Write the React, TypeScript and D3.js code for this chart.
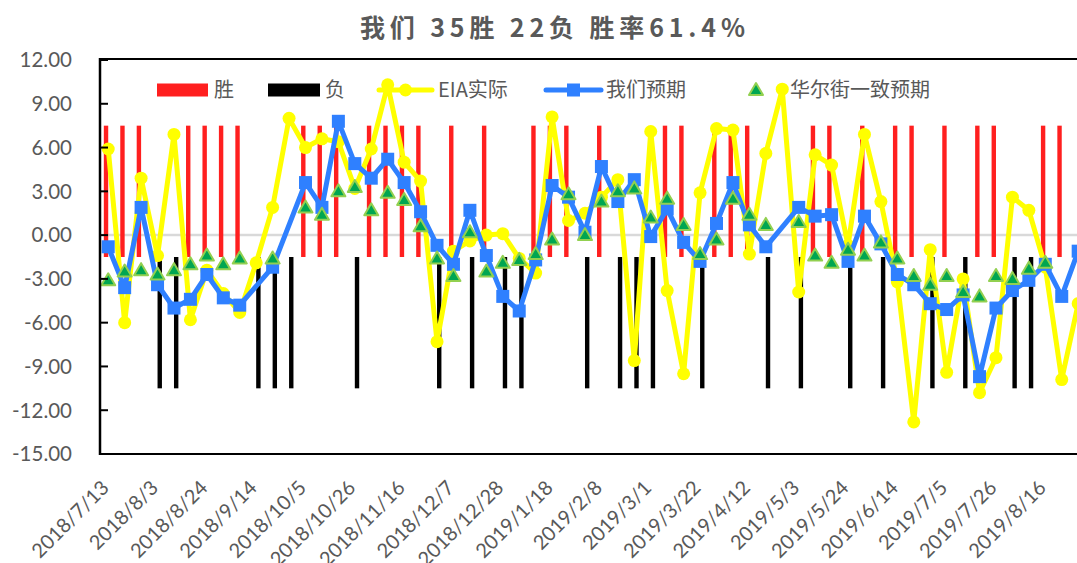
import React from 'react'
import * as d3 from 'd3'

// weekly EIA crude inventory change, 2018/7/13 .. 2019/8/30
const startDate = new Date(2018, 6, 13)
const categories = d3.range(60).map(i => d3.timeDay.offset(startDate, i * 7))
const fmt = d3.timeFormat('%Y/%-m/%-d')

// 1 = 胜, -1 = 负, 0 = none
const results = [
  1, 1, 1, -1, -1, 1, 1, 1, 1, -1, -1, -1, 1, 1, 1, -1, 1, 1, 1, 1,
  -1, 1, -1, 1, -1, -1, 1, 1, 1, -1, 1, -1, -1, -1, 1, 1, -1, 1, 1, 1,
  -1, 0, -1, 1, 1, -1, 1, -1, 1, 1, -1, 1, -1, 1, 1, -1, -1, 1, 1, 0,
]
const winBar = [-1.5, 7.5]
const lossBar = [-1.5, -10.5]

const eiaActual = [
  5.9, -6.0, 3.9, -1.4, 6.9, -5.8, -2.4, -4.0, -5.3, -1.9,
  1.9, 8.0, 6.0, 6.6, 6.4, 3.2, 5.9, 10.3, 5.0, 3.7,
  -7.3, -1.1, -0.4, 0.0, 0.1, -1.6, -2.6, 8.1, 1.0, 1.5,
  2.6, 3.8, -8.6, 7.1, -3.8, -9.5, 2.9, 7.3, 7.2, -1.3,
  5.6, 10.0, -3.9, 5.5, 4.8, -0.7, 6.9, 2.3, -3.2, -12.8,
  -1.0, -9.4, -3.0, -10.8, -8.4, 2.6, 1.7, -2.2, -9.9, -4.7,
]

const ourForecast: (number | null)[] = [
  -0.8, -3.6, 1.9, -3.4, -5.0, -4.4, -2.7, -4.3, -4.8, null,
  -2.2, null, 3.6, 1.9, 7.8, 4.9, 3.9, 5.2, 3.6, 1.6,
  -0.7, -2.0, 1.7, -1.4, -4.2, -5.2, -1.7, 3.4, 2.6, 0.2,
  4.7, 2.3, 3.8, -0.1, 1.8, -0.5, -1.8, 0.8, 3.6, 0.7,
  -0.8, null, 1.9, 1.3, 1.4, -1.8, 1.3, -0.6, -2.7, -3.4,
  -4.7, -5.1, -4.1, -9.7, -5.0, -3.8, -3.1, -2.0, -4.2, -1.1,
]

const streetConsensus: (number | null)[] = [
  -3.1, -2.5, -2.4, -2.7, -2.4, -2.0, -1.4, -2.0, -1.6, null,
  -1.6, null, 1.9, 1.4, 3.0, 3.3, 1.7, 2.9, 2.4, 0.6,
  -1.6, -2.8, 0.2, -2.5, -1.9, -1.7, -1.3, -0.3, 2.8, 0.0,
  2.3, 3.0, 3.2, 1.2, 2.5, 0.7, -1.3, -0.3, 2.5, 1.4,
  0.7, null, 0.9, -1.4, -1.9, -1.0, -1.4, -0.5, -1.6, -2.8,
  -3.4, -2.8, -3.9, -4.2, -2.8, -3.0, -2.3, -1.9, null, null,
]

const yTicks = [12, 9, 6, 3, 0, -3, -6, -9, -12, -15]

const W = 1077
const H = 563
const left = 100
const top = 60
const bottom = 454
const step = 16.44
const right = left + categories.length * step

const gray = '#595959'
const red = '#FF1F1F'
const yellow = '#FFFF00'
const blue = '#2F80FF'
const green = '#00A651'
const lightGreen = '#92D050'
const numFont = 'Lato, "Liberation Sans", sans-serif'
const cjkFont = '"Noto Sans CJK SC", sans-serif'

const tri = 'M0,-7L7,5L-7,5Z'

export default function App() {
  const x = d3.scaleBand<number>().domain(d3.range(categories.length)).range([left, right])
  const cx = (i: number) => (x(i) as number) + x.bandwidth() / 2
  const y = d3.scaleLinear().domain([-15, 12]).range([bottom, top])
  const barW = 4.4

  const lineGen = d3.line<[number, number]>().x(d => cx(d[0])).y(d => y(d[1]))
  const eiaPts: [number, number][] = eiaActual.map((v, i) => [i, v])
  const ourPts: [number, number][] = ourForecast
    .map((v, i) => [i, v] as [number, number | null])
    .filter(d => d[1] !== null) as [number, number][]
  const streetPts: [number, number][] = streetConsensus
    .map((v, i) => [i, v] as [number, number | null])
    .filter(d => d[1] !== null) as [number, number][]

  const ly = 90

  return (
    <svg width={W} height={H} style={{ position: 'absolute', left: 0, top: 0, background: '#fff' }}>
      <rect width={W} height={H} fill="#fff" />
      <text x={360} y={37} textLength={385} lengthAdjust="spacing" fontFamily={cjkFont} fontWeight="bold" fontSize={25} fill={gray}>
        我们 35胜 22负 胜率61.4%
      </text>

      {/* zero line */}
      <line x1={left} x2={right} y1={y(0)} y2={y(0)} stroke="#D9D9D9" strokeWidth={2.5} />

      {/* win / loss bars */}
      {results.map((r, i) =>
        r === 1 ? (
          <rect key={'w' + i} x={cx(i) - barW} width={barW} y={y(winBar[1])} height={y(winBar[0]) - y(winBar[1])} fill={red} />
        ) : r === -1 ? (
          <rect key={'l' + i} x={cx(i)} width={barW} y={y(lossBar[0])} height={y(lossBar[1]) - y(lossBar[0])} fill="#000" />
        ) : null
      )}

      {/* EIA actual */}
      <path d={lineGen(eiaPts) ?? ''} fill="none" stroke={yellow} strokeWidth={5} strokeLinejoin="round" />
      {eiaPts.map(d => (
        <circle key={'e' + d[0]} cx={cx(d[0])} cy={y(d[1])} r={6.5} fill={yellow} />
      ))}

      {/* our forecast */}
      <path d={lineGen(ourPts) ?? ''} fill="none" stroke={blue} strokeWidth={5} strokeLinejoin="round" />
      {ourPts.map(d => (
        <rect key={'o' + d[0]} x={cx(d[0]) - 6.5} y={y(d[1]) - 6.5} width={13} height={13} fill={blue} />
      ))}

      {/* street consensus */}
      {streetPts.map(d => (
        <path key={'s' + d[0]} d={tri} transform={`translate(${cx(d[0])},${y(d[1])})`} fill={green} stroke={lightGreen} strokeWidth={2} strokeLinejoin="round" />
      ))}

      {/* frame */}
      <line x1={left - 1} x2={right} y1={top - 1} y2={top - 1} stroke="#000" strokeWidth={2} />
      <line x1={left - 1} x2={right} y1={bottom} y2={bottom} stroke="#000" strokeWidth={2} />
      <line x1={left} x2={left} y1={top - 2} y2={bottom + 1} stroke="#000" strokeWidth={2.5} />
      {yTicks.map(t => (
        <g key={t}>
          <line x1={left} x2={left + 8} y1={y(t)} y2={y(t)} stroke="#000" strokeWidth={2} />
          <text x={72} y={y(t)} dy="0.36em" textAnchor="end" fontFamily={numFont} fontSize={20.5} fill={gray}>
            {t.toFixed(2)}
          </text>
        </g>
      ))}

      {/* x labels */}
      {categories.map((c, i) =>
        i % 3 === 0 ? (
          <text key={'x' + i} transform={`translate(${cx(i) + 2},${489}) rotate(-45)`} textAnchor="end" fontFamily={numFont} fontSize={20} fill={gray}>
            {fmt(c)}
          </text>
        ) : null
      )}

      {/* legend */}
      <rect x={157} y={ly - 6.5} width={51} height={13} fill={red} />
      <text x={214} y={ly} dy="0.36em" fontFamily={cjkFont} fontSize={20} fill={gray}>胜</text>
      <rect x={268} y={ly - 6.5} width={52} height={13} fill="#000" />
      <text x={325} y={ly} dy="0.36em" fontFamily={cjkFont} fontSize={20} fill={gray}>负</text>
      <line x1={379} x2={432} y1={ly} y2={ly} stroke={yellow} strokeWidth={5} strokeLinecap="round" />
      <circle cx={405.5} cy={ly} r={6.5} fill={yellow} />
      <text x={438} y={ly} dy="0.36em" fontFamily={cjkFont} fontSize={20} fill={gray}>EIA实际</text>
      <line x1={546} x2={601} y1={ly} y2={ly} stroke={blue} strokeWidth={5} strokeLinecap="round" />
      <rect x={573.5 - 6.5} y={ly - 6.5} width={13} height={13} fill={blue} />
      <text x={606} y={ly} dy="0.36em" fontFamily={cjkFont} fontSize={20} fill={gray}>我们预期</text>
      <path d={tri} transform={`translate(756,${ly})`} fill={green} stroke={lightGreen} strokeWidth={2} strokeLinejoin="round" />
      <text x={790} y={ly} dy="0.36em" fontFamily={cjkFont} fontSize={20} fill={gray}>华尔街一致预期</text>
    </svg>
  )
}
